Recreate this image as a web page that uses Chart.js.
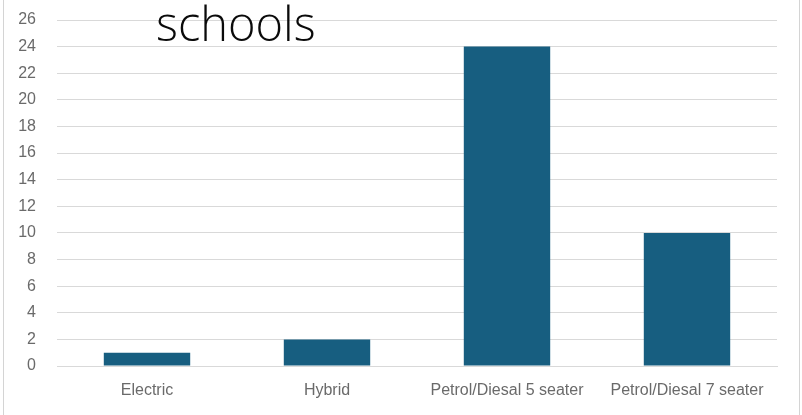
<!DOCTYPE html>
<html>
<head>
<meta charset="utf-8">
<script src="https://cdn.jsdelivr.net/npm/chart.js@4"></script>
<style>
  html, body { margin: 0; padding: 0; background: #fff; }
  #wrap { position: relative; width: 802px; height: 415px; overflow: hidden; }
  #wrap::before { content: ""; position: absolute; left: 3px; top: 0; bottom: 0; border-left: 1px solid #d4d4d4; }
  #wrap::after { content: ""; position: absolute; left: 799px; top: 0; bottom: 0; border-left: 1px solid #d4d4d4; }
  #title {
    position: absolute; left: 156px; top: -5px;
    font-family: "Open Sans", sans-serif; font-weight: 300; font-size: 47px;
    color: #0a0a0a; line-height: 1.2; pointer-events: none;
  }
</style>
</head>
<body>
<div id="wrap">
  <canvas id="c" width="802" height="415"></canvas>
  <div id="title">schools</div>
</div>
<script>
const categories = ["Electric", "Hybrid", "Petrol/Diesal 5 seater", "Petrol/Diesal 7 seater"];
const counts = [1, 2, 24, 10];
const yMin = 0, yMax = 26, yStep = 2;

const tickFont = { family: "'Liberation Sans', Arial, sans-serif", size: 16 };
const tickColor = "#6a6a6a";
const gridColor = "#d9d9d9";

new Chart(document.getElementById("c"), {
  type: "bar",
  data: {
    labels: categories,
    datasets: [{
      data: counts,
      backgroundColor: "#175e80",
      borderWidth: 0,
      barPercentage: 0.8,
      categoryPercentage: 0.6
    }]
  },
  options: {
    responsive: false,
    animation: false,
    layout: { padding: { top: 20, right: 25, bottom: 0, left: 0 } },
    plugins: { legend: { display: false }, tooltip: { enabled: false } },
    scales: {
      x: {
        grid: { display: false, drawTicks: false },
        border: { display: true, color: gridColor, width: 1 },
        ticks: { font: tickFont, color: tickColor, padding: 15, maxRotation: 0, autoSkip: false },
        afterFit(scale) { scale.height = 49; }
      },
      y: {
        min: yMin, max: yMax,
        grid: { color: gridColor, lineWidth: 1, drawTicks: false },
        border: { display: false },
        ticks: { stepSize: yStep, font: tickFont, color: tickColor, padding: 21 },
        afterFit(scale) {
          // wide label gap on the left, but only half a label of overhang above/below
          scale.width = 57;
          scale.paddingTop = 10;
          scale.paddingBottom = 10;
        }
      }
    }
  }
});
</script>
</body>
</html>
